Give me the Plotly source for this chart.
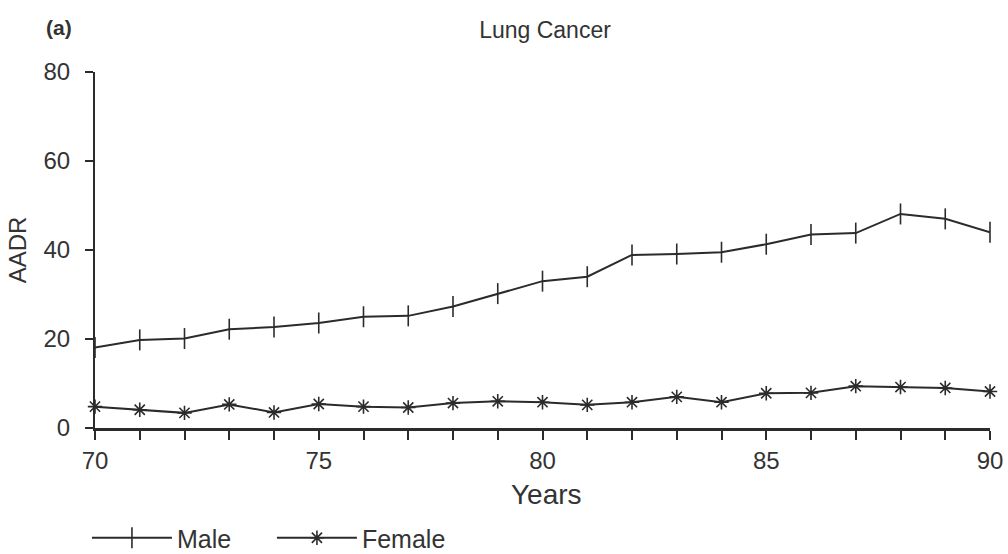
import plotly.graph_objects as go

years = list(range(70, 91))
male = [18.1, 19.8, 20.1, 22.2, 22.7, 23.6, 25.0, 25.2, 27.3, 30.2, 33.0,
        34.0, 38.9, 39.1, 39.5, 41.3, 43.5, 43.8, 48.1, 47.0, 44.0]
female = [4.8, 4.1, 3.4, 5.3, 3.5, 5.4, 4.8, 4.6, 5.6, 6.0, 5.8,
          5.2, 5.8, 7.0, 5.8, 7.8, 7.9, 9.4, 9.2, 9.0, 8.2]
x_tickvals = list(range(70, 91))
x_ticktext = [str(v) if v % 5 == 0 else "" for v in x_tickvals]
y_tickvals = [0, 20, 40, 60, 80]

ink = "#2b2b2b"
font = "Liberation Sans, Arial, sans-serif"

fig = go.Figure()
fig.add_trace(go.Scatter(
    x=years, y=male, name="Male", mode="lines+markers",
    line=dict(color=ink, width=2),
    marker=dict(symbol="line-ns", size=15, line=dict(color=ink, width=1.6)),
    cliponaxis=False,
))
fig.add_trace(go.Scatter(
    x=years, y=female, name="Female", mode="lines+markers",
    line=dict(color=ink, width=2),
    marker=dict(symbol="asterisk", size=12, line=dict(color=ink, width=1.6)),
    cliponaxis=False,
))

fig.update_layout(
    width=1008, height=554,
    margin=dict(l=95, r=18, t=72, b=126, autoexpand=False),
    paper_bgcolor="white", plot_bgcolor="white",
    font=dict(family=font, color="#333333", size=24),
    title=dict(text="Lung Cancer", x=545 / 1008, xanchor="center",
               y=1 - 30 / 554, yanchor="middle", font=dict(size=23)),
    showlegend=True,
    legend=dict(orientation="h", x=-0.009, xanchor="left", y=-(538 - 428) / 356,
                yanchor="middle",
                font=dict(size=25), entrywidth=90, itemwidth=80,
                bgcolor="rgba(0,0,0,0)"),
    xaxis=dict(range=[70, 90], tickvals=x_tickvals, ticktext=x_ticktext,
               ticks="outside", ticklen=9, tickwidth=1.5, tickcolor=ink,
               showline=True, linecolor=ink, linewidth=2.5, showgrid=False,
               zeroline=False, tickfont=dict(size=24), ticklabelstandoff=0,
               automargin=False),
    yaxis=dict(range=[0, 80], tickvals=y_tickvals,
               ticks="outside", ticklen=8, tickwidth=1.5, tickcolor=ink,
               showline=True, linecolor=ink, linewidth=2, showgrid=False,
               zeroline=False, tickfont=dict(size=24), ticklabelstandoff=10,
               automargin=False,
               title=dict(text="AADR", font=dict(size=24), standoff=10)),
)
fig.add_annotation(text="Years", xref="paper", yref="paper",
                   x=(546 - 95) / 895, y=-(494 - 428) / 356, xanchor="center",
                   yanchor="middle", showarrow=False,
                   font=dict(size=28, color="#333333"))
fig.add_annotation(text="<b>(a)</b>", xref="paper", yref="paper",
                   x=(59 - 95) / 895, y=1 + (72 - 28) / 356, xanchor="center",
                   yanchor="middle",
                   showarrow=False, font=dict(size=21, color="#333333"))

fig.write_html("out.html")
